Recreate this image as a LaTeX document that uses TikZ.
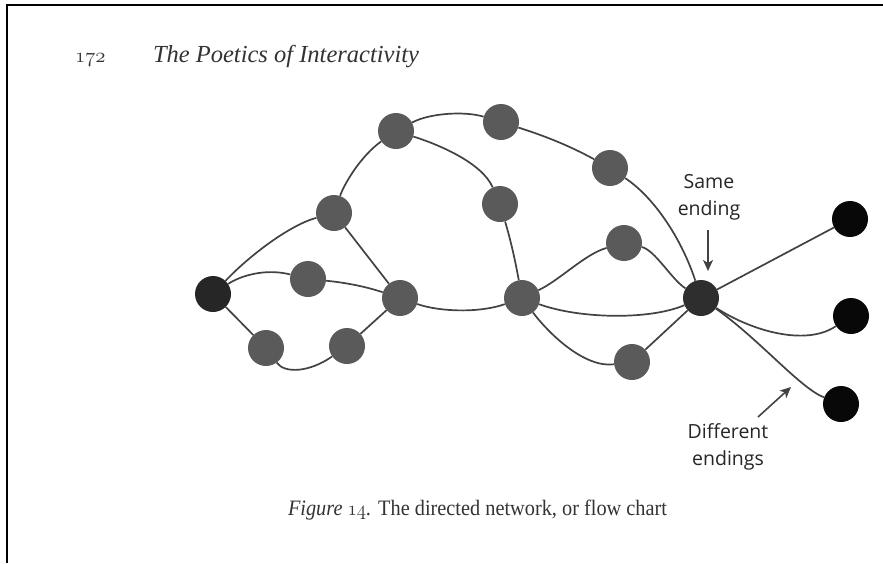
\documentclass[tikz,border=0pt]{standalone}
\usepackage{fontspec}
\setmainfont{Liberation Serif}
\newfontfamily\lblfont{Open Sans}
\newcommand\osnum[1]{{\usefont{OML}{cmm}{m}{it}#1}}
\usetikzlibrary{arrows.meta}
\definecolor{edgecol}{HTML}{424242}
\definecolor{midnode}{HTML}{5A5A5A}
\definecolor{startnode}{HTML}{262626}
\definecolor{samenode}{HTML}{2E2E2E}
\definecolor{endnode}{HTML}{080808}
\tikzset{
  netnode/.style={circle, inner sep=0pt, minimum size=36pt, fill=midnode},
  startdot/.style={netnode, fill=startnode},
  samedot/.style={netnode, fill=samenode},
  enddot/.style={netnode, fill=endnode},
  edge/.style={draw=edgecol, line width=1.7pt},
  ptr/.style={draw=edgecol, line width=1.6pt, -{Stealth[length=11pt,width=10pt,inset=3pt]}},
  lbl/.style={align=center, inner sep=0pt, font=\lblfont\fontsize{19.5}{27}\selectfont, text=black!85},
  serif/.style={inner sep=0pt, outer sep=0pt, anchor=base west, text=black!80}
}
\begin{document}
\begin{tikzpicture}[x=1pt,y=-1pt]
\useasboundingbox (0,0) rectangle (883,563);
\fill[white] (0,0) rectangle (883,563);
\draw[line width=1.4pt] (7,563) -- (7,5) -- (883,5);

% header
\node[serif, font=\fontsize{20}{24}\selectfont] (pagenum) at (75,62) {\osnum{172}};
\node[serif, font=\fontsize{24.5}{28}\selectfont] (title) at (153,62) {\itshape The Poetics of Interactivity};

% nodes
\node[startdot] (S) at (213,294) {};
\node[netnode] (A) at (334,213) {};
\node[netnode] (B) at (396,131) {};
\node[netnode] (C) at (501,122) {};
\node[netnode] (D) at (610,168) {};
\node[netnode] (E) at (500,204) {};
\node[netnode] (F) at (308,279) {};
\node[netnode] (G) at (400,298) {};
\node[netnode] (H) at (266,348) {};
\node[netnode] (I) at (347,346) {};
\node[netnode] (J) at (522,298) {};
\node[netnode] (K) at (624,243) {};
\node[netnode] (L) at (632,362) {};
\node[samedot] (M) at (701,298) {};
\node[enddot] (N1) at (850,219) {};
\node[enddot] (N2) at (851,316) {};
\node[enddot] (N3) at (841,404) {};

% edges
\draw[edge] (S) .. controls (250,255) and (290,225) .. (A);
\draw[edge] (S) .. controls (240,276) and (265,268) .. (F);
\draw[edge] (S) -- (H);
\draw[edge] (H) .. controls (285,374) and (310,372) .. (I);
\draw[edge] (I) -- (G);
\draw[edge] (F) .. controls (350,283) and (370,288) .. (G);
\draw[edge] (A) -- (G);
\draw[edge] (A) .. controls (345,182) and (362,155) .. (B);
\draw[edge] (B) .. controls (430,113) and (465,111) .. (C);
\draw[edge] (B) .. controls (440,145) and (482,163) .. (E);
\draw[edge] (C) .. controls (545,136) and (570,146) .. (D);
\draw[edge] (D) .. controls (655,198) and (682,240) .. (M);
\draw[edge] (E) .. controls (512,245) and (516,265) .. (J);
\draw[edge] (G) .. controls (440,312) and (480,313) .. (J);
\draw[edge] (J) .. controls (560,280) and (585,254) .. (K);
\draw[edge] (J) .. controls (580,319) and (650,320) .. (M);
\draw[edge] (J) .. controls (550,335) and (585,368) .. (L);
\draw[edge] (K) .. controls (655,250) and (672,280) .. (M);
\draw[edge] (L) -- (M);
\draw[edge] (M) -- (N1);
\draw[edge] (M) .. controls (750,330) and (805,347) .. (N2);
\draw[edge] (M) .. controls (760,340) and (800,388) .. (N3);

% labels and pointers
\node[lbl] (same) at (709,197) {Same\\ending};
\coordinate (sametail) at (708,230);
\coordinate (samehead) at (708,271);
\draw[ptr] (sametail) -- (samehead);

\node[lbl] (diff) at (728,447) {Different\\endings};
\coordinate (difftail) at (758,417);
\coordinate (diffhead) at (791,387);
\draw[ptr] (difftail) -- (diffhead);

% caption
\node[serif, font=\fontsize{22}{26}\selectfont] (caption) at (288,515) {\resizebox{379pt}{\height}{\textit{Figure \osnum{14}.} The directed network, or flow chart}};
\end{tikzpicture}
\end{document}
